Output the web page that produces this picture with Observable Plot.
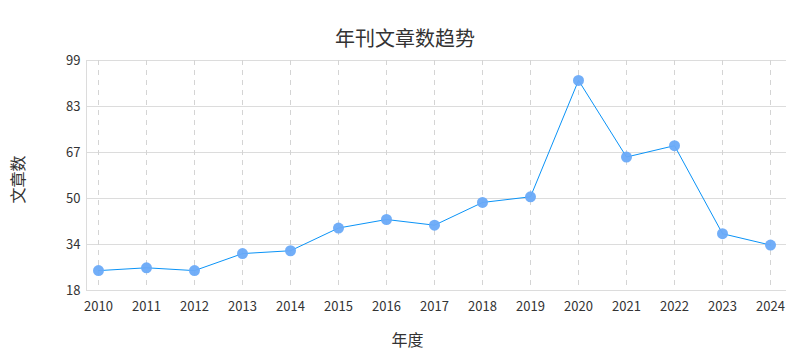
<!DOCTYPE html>
<html>
<head>
<meta charset="utf-8">
<script src="https://cdn.jsdelivr.net/npm/d3@7"></script>
<script src="https://cdn.jsdelivr.net/npm/@observablehq/plot@0.6"></script>
<style>
  html, body { margin: 0; padding: 0; background: #fff; }
  body { width: 810px; height: 360px; overflow: hidden; font-family: "Noto Sans CJK SC", "Noto Sans", sans-serif; }
  #title { height: 50px; box-sizing: border-box; padding-top: 26px; line-height: 24px; font-size: 20px; color: #333; text-align: center; }
  #chart svg { display: block; }
</style>
</head>
<body>
<div id="title">年刊文章数趋势</div>
<div id="chart"></div>
<script>
const years = [2010, 2011, 2012, 2013, 2014, 2015, 2016, 2017, 2018, 2019, 2020, 2021, 2022, 2023, 2024];
const articles = [25, 26, 25, 31, 32, 40, 43, 41, 49, 51, 92, 65, 69, 38, 34];
const yTicks = [18, 34.2, 50.4, 66.6, 82.8, 99];
const yTickLabels = ["18", "34", "50", "67", "83", "99"];
const xLabel = "年度";
const yLabel = "文章数";

const data = years.map((y, i) => ({year: y, value: articles[i]}));

const chart = Plot.plot({
  width: 810,
  height: 310,
  marginTop: 10,
  marginBottom: 70,
  marginLeft: 86,
  marginRight: 24,
  style: {fontFamily: '"Noto Sans CJK SC", "Noto Sans", sans-serif', fontSize: "12.5px", color: "#333", background: "#fff"},
  x: {type: "linear", domain: [2009.75, 2024 + 1/3]},
  y: {domain: [18, 99]},
  marks: [
    Plot.gridY(yTicks, {stroke: "#dcdcdc", strokeOpacity: 1}),
    Plot.gridX(years, {stroke: "#d4d4d4", strokeOpacity: 1, strokeDasharray: "5,5"}),
    Plot.ruleX([2009.75], {stroke: "#dcdcdc"}),
    Plot.axisY(yTicks, {tickSize: 0, tickPadding: 6, tickFormat: (d, i) => yTickLabels[i], label: null, fontSize: 13}),
    Plot.axisX(years, {tickSize: 0, tickPadding: 11, tickFormat: d => String(d), label: null, fontSize: 13}),
    Plot.text([yLabel], {text: d => d, frameAnchor: "left", dx: -68, dy: 28, rotate: -90, fontSize: 16, fill: "#333"}),
    Plot.text([xLabel], {text: d => d, frameAnchor: "bottom", dx: -29, dy: 55, fontSize: 16, fill: "#333"}),
    Plot.line(data, {x: "year", y: "value", stroke: "#0a93f7", strokeWidth: 1}),
    Plot.dot(data, {x: "year", y: "value", r: 5.5, fill: "#6aaaf8", fillOpacity: 0.95, stroke: "none"})
  ]
});
document.getElementById("chart").appendChild(chart);
</script>
</body>
</html>
